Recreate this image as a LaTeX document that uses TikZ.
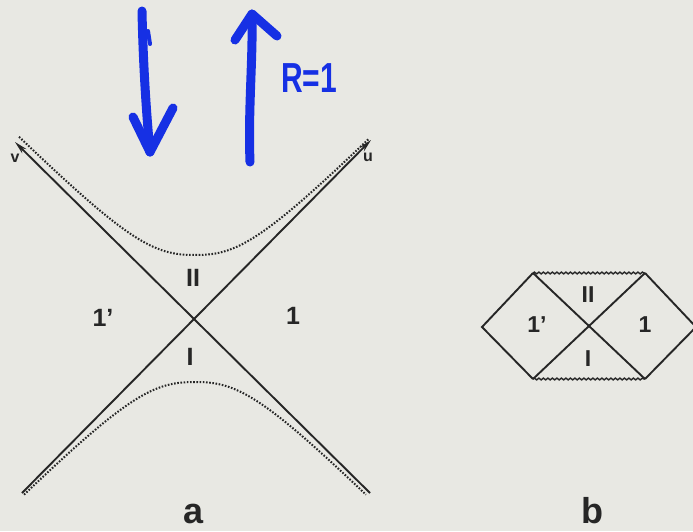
\documentclass[tikz,border=0pt]{standalone}
\usepackage{fontspec}
\setmainfont{Liberation Sans}
\usetikzlibrary{arrows.meta,decorations.pathmorphing}
\definecolor{paper}{RGB}{232,232,227}
\definecolor{ink}{RGB}{38,38,38}
\definecolor{marker}{RGB}{22,48,228}
\tikzset{
  ax/.style={draw=ink, line width=1.9pt},
  hyp/.style={draw=ink, line width=2pt, dash pattern=on 1.6pt off 1.6pt},
  lab/.style={font=\bfseries\fontsize{25}{27}\selectfont, text=ink, inner sep=0pt},
  labb/.style={font=\bfseries\fontsize{23}{25}\selectfont, text=ink, inner sep=0pt},
  smalllab/.style={font=\bfseries\fontsize{16}{18}\selectfont, text=ink, inner sep=0pt},
  caplab/.style={font=\bfseries\fontsize{36}{38}\selectfont, text=ink, inner sep=0pt, anchor=base},
  pen/.style={draw=marker, line width=9pt, line cap=round, line join=round},
  wavy/.style={draw=ink, line width=1.4pt, decorate, decoration={snake, amplitude=0.9pt, segment length=4.5pt}},
  tip/.style={-{Stealth[length=13pt,width=6pt]}}
}
\begin{document}
\begin{tikzpicture}[x=1pt,y=-1pt]
\fill[paper] (0,0) rectangle (693,531);
\useasboundingbox (0,0) rectangle (693,531);
% ---------- diagram a ----------
\coordinate (O) at (195,318);
\coordinate (vtip) at (15,142);
\coordinate (vend) at (370,493);
\coordinate (utip) at (371,140);
\coordinate (uend) at (22,493);
\draw[ax, tip] (vend) -- (vtip);
\draw[ax, tip] (uend) -- (utip);
% flattened hyperbolas: |y| = (|x|^2.5 + a^2.5)^0.4
\draw[hyp] plot[domain=-1.76:1.74, samples=90]
  ({195+100*\x},{318-100*(pow(abs(\x),2.5)+pow(0.63,2.5))^0.4});
\draw[hyp] plot[domain=-1.71:1.71, samples=90]
  ({195+100*\x},{318+100*(pow(abs(\x),2.5)+pow(0.64,2.5))^0.4});
\node[smalllab] (v) at (15,158) {v};
\node[smalllab] (u) at (368,157) {u};
\node[lab] (IIa) at (193,278) {II};
\node[lab] (Ia) at (190,357) {I};
\node[lab] (onepa) at (103,318) {1’};
\node[lab] (onea) at (293,316) {1};
\node[caplab] (a) at (194,523) {a};
% ---------- diagram b ----------
\coordinate (L) at (482,327);
\coordinate (TL) at (533,273);
\coordinate (TR) at (645,273);
\coordinate (R) at (696,327);
\coordinate (BL) at (533,379);
\coordinate (BR) at (645,379);
\draw[ax] (TL) -- (L) -- (BL);
\draw[ax] (TR) -- (R) -- (BR);
\draw[ax] (TL) -- (BR);
\draw[ax] (BL) -- (TR);
\draw[wavy] (TL) -- (TR);
\draw[wavy] (BL) -- (BR);
\node[labb] (IIb) at (588,295) {II};
\node[labb] (Ib) at (588,359) {I};
\node[labb] (onepb) at (537,325) {1’};
\node[labb] (oneb) at (645,325) {1};
\node[caplab] (b) at (592,523) {b};
% ---------- blue marker arrows ----------
\coordinate (d0) at (142,11);
\coordinate (d1) at (150,152);
\coordinate (dl) at (133,117);
\coordinate (dr) at (173,108);
\draw[pen] (d0) .. controls (143,60) and (146,110) .. (d1);
\draw[pen] (dl) -- (d1) -- (dr);
\draw[marker, line width=4pt, line cap=round] (148,31) -- (150,44);
\coordinate (u0) at (250,162);
\coordinate (u1) at (252,14);
\coordinate (ul) at (235,40);
\coordinate (ur) at (277,36);
\draw[pen] (u0) .. controls (248,110) and (253,60) .. (u1);
\draw[pen] (ul) -- (u1) -- (ur);
\node[font=\bfseries\fontsize{30}{32}\selectfont, text=marker, inner sep=0pt, yscale=1.4] (R1) at (309,78) {R=1};
\end{tikzpicture}
\end{document}
